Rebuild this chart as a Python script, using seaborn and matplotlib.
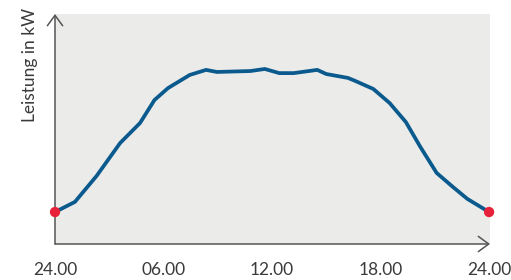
import matplotlib
matplotlib.use("Agg")
import matplotlib.pyplot as plt
import seaborn as sns
import pandas as pd

# Tagesverlauf der Leistung (Stunden ab Mitternacht, kW)
hours = [0, 1.1, 2.3, 3.6, 4.7, 5.5, 6.25, 7.45, 8.35, 8.95, 10.8, 11.6,
         12.4, 13.2, 14.5, 15.0, 16.2, 16.6, 17.6, 18.5, 19.4, 20.2,
         21.1, 22.0, 22.8, 24]
power = [1.39, 1.83, 2.96, 4.39, 5.26, 6.26, 6.78, 7.35, 7.57, 7.48, 7.52, 7.61,
         7.43, 7.43, 7.57, 7.39, 7.22, 7.09, 6.74, 6.13, 5.30, 4.22,
         3.09, 2.48, 1.96, 1.39]
tick_pos = [0, 6, 12, 18, 24]
tick_labels = ["24.00", "06.00", "12.00", "18.00", "24.00"]

df = pd.DataFrame({"h": hours, "p": power})
ends = df.iloc[[0, -1]]

sns.set_style("white")
plt.rcParams["font.family"] = ["Lato", "DejaVu Sans"]

fig = plt.figure(figsize=(5.11, 2.8), dpi=100)
ax = fig.add_axes([55 / 511, 36 / 280, 435 / 511, 230 / 280])
ax.set_facecolor("#ebebea")

sns.lineplot(data=df, x="h", y="p", ax=ax, color="#0b5a8e", linewidth=2.7,
             solid_joinstyle="round", solid_capstyle="round")
sns.scatterplot(data=ends, x="h", y="p", ax=ax, color="#e8213a", s=55,
                edgecolor="none", zorder=5, clip_on=False)

ax.set_xlim(0, 24.05)
ax.set_ylim(0, 10)
ax.set_xticks(tick_pos)
ax.set_xticklabels(tick_labels)
ax.set_yticks([])
ax.set_xlabel("")
ax.set_ylabel("Leistung in kW", fontsize=12.5, color="#3a3a3a", loc="top")
ax.yaxis.set_label_coords(-0.057, 1.025)
ax.yaxis.label.set_va("center")
ax.tick_params(axis="x", direction="out", length=5, width=1, color="#666666",
               labelsize=12.5, labelcolor="#3a3a3a", pad=8)

for s in ["top", "right", "left", "bottom"]:
    ax.spines[s].set_visible(False)

# Achsen mit Pfeilspitzen
arrow = dict(arrowstyle="->,head_length=0.75,head_width=0.55", color="#555555",
             lw=1.1, shrinkA=0, shrinkB=0)
ax.annotate("", xy=(1.0, 0), xytext=(0, 0), xycoords="axes fraction",
            arrowprops=arrow)
ax.annotate("", xy=(0, 1.0), xytext=(0, 0), xycoords="axes fraction",
            arrowprops=arrow)

fig.savefig("out.png", dpi=100)
plt.close()
